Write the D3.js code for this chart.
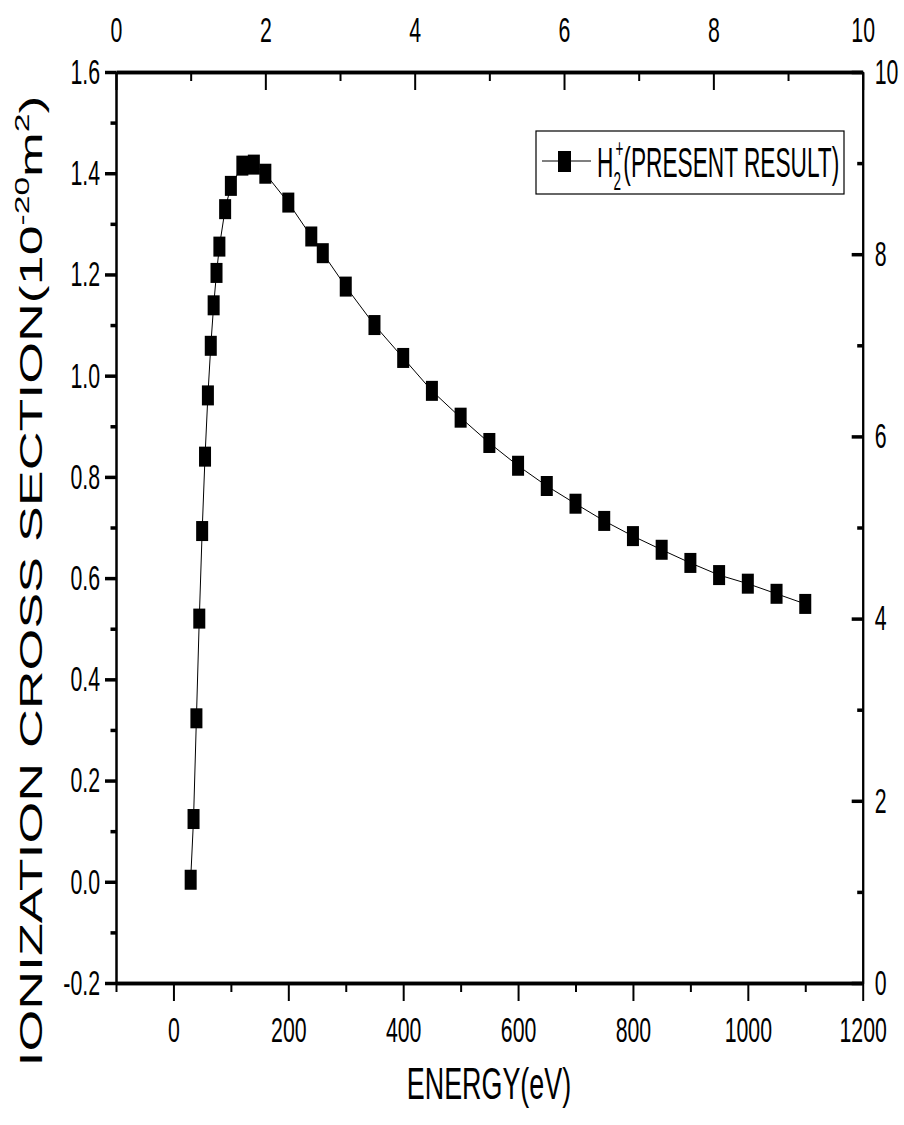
<!DOCTYPE html>
<html>
<head>
<meta charset="utf-8">
<script src="https://cdn.jsdelivr.net/npm/d3@7"></script>
<style>
  body { margin: 0; background: #fff; }
  svg { display: block; font-family: "Liberation Sans", Arial, sans-serif; }
</style>
</head>
<body>
<script>
// data
var energy = [30, 35, 40, 45, 50, 55, 60, 65, 70, 75, 80, 90, 100, 120, 140, 160, 200, 240, 260, 300,
              350, 400, 450, 500, 550, 600, 650, 700, 750, 800, 850, 900, 950, 1000, 1050, 1100];
var sigma = [0.004, 0.124, 0.323, 0.52, 0.693, 0.84, 0.961, 1.059, 1.139, 1.203, 1.255, 1.329, 1.375, 1.415, 1.417, 1.399, 1.342, 1.275, 1.242, 1.176,
             1.100, 1.035, 0.97, 0.917, 0.867, 0.822, 0.782, 0.747, 0.713, 0.683, 0.656, 0.63, 0.606, 0.589, 0.569, 0.549];
var bottomTicks = [0, 200, 400, 600, 800, 1000, 1200];
var bottomMinor = [-100, 100, 300, 500, 700, 900, 1100];
var leftTicks = [-0.2, 0, 0.2, 0.4, 0.6, 0.8, 1.0, 1.2, 1.4, 1.6];
var leftMinor = [-0.1, 0.1, 0.3, 0.5, 0.7, 0.9, 1.1, 1.3, 1.5];
var auxTicks = [0, 2, 4, 6, 8, 10];
var auxMinor = [1, 3, 5, 7, 9];
var legendLabel = "(PRESENT RESULT)";

(function(){

var width = 904, height = 1125;
var pLeft = 116, pRight = 862.7, pTop = 72, pBottom = 983;
var sq = 0.6; // text looks squeezed horizontally
var tickFont = 35.5;

var svg = d3.select("body").append("svg")
    .attr("width", width)
    .attr("height", height);

var x = d3.scaleLinear().domain([-100, 1200]).range([pLeft, pRight]);
var y = d3.scaleLinear().domain([-0.2, 1.6]).range([pBottom, pTop]);
var xTop = d3.scaleLinear().domain([0, 10]).range([pLeft, pRight]);
var yRight = d3.scaleLinear().domain([0, 10]).range([pBottom, pTop]);

//plain hyphen instead of the unicode minus
var fmt1 = function(d){ return d3.format(".1f")(d).replace("\u2212", "-"); };

//squeeze tick labels without moving them
function squeeze(texts, k){
  texts.each(function(){
    var t = d3.select(this);
    var tx = +t.attr("x") || 0;
    t.attr("x", tx / k).attr("transform", "scale(" + k + ",1)");
  });
}

function styleAxis(g, domainW, tickW){
  g.select(".domain").attr("stroke-width", domainW).attr("stroke", "#000");
  g.selectAll(".tick line").attr("stroke-width", tickW).attr("stroke", "#000");
  g.selectAll("text").attr("font-size", tickFont).attr("fill", "#000");
}

// minor ticks first
svg.append("g").attr("transform", "translate(0," + pBottom + ")")
  .call(d3.axisBottom(x).tickValues(bottomMinor).tickFormat("").tickSizeInner(9).tickSizeOuter(0))
  .call(function(g){ styleAxis(g, 3.5, 2); });
svg.append("g").attr("transform", "translate(" + pLeft + ",0)")
  .call(d3.axisLeft(y).tickValues(leftMinor).tickFormat("").tickSizeInner(5.5).tickSizeOuter(0))
  .call(function(g){ styleAxis(g, 2, 3.5); });
svg.append("g").attr("transform", "translate(0," + pTop + ")")
  .call(d3.axisTop(xTop).tickValues(auxMinor).tickFormat("").tickSizeInner(-9).tickSizeOuter(0))
  .call(function(g){ styleAxis(g, 3.5, 2); });
svg.append("g").attr("transform", "translate(" + pRight + ",0)")
  .call(d3.axisRight(yRight).tickValues(auxMinor).tickFormat("").tickSizeInner(-5.5).tickSizeOuter(0))
  .call(function(g){ styleAxis(g, 2, 3.5); });

// major ticks + labels
var gx = svg.append("g").attr("transform", "translate(0," + pBottom + ")")
  .call(d3.axisBottom(x).tickValues(bottomTicks).tickFormat(d3.format("d")).tickSizeInner(18).tickSizeOuter(0).tickPadding(16));
styleAxis(gx, 3.5, 2);
squeeze(gx.selectAll("text"), sq);

var gy = svg.append("g").attr("transform", "translate(" + pLeft + ",0)")
  .call(d3.axisLeft(y).tickValues(leftTicks).tickFormat(fmt1).tickSizeInner(11).tickSizeOuter(0).tickPadding(5));
styleAxis(gy, 2, 3.5);
squeeze(gy.selectAll("text"), sq);

var gt = svg.append("g").attr("transform", "translate(0," + pTop + ")")
  .call(d3.axisTop(xTop).tickValues(auxTicks).tickFormat(d3.format("d")).tickSizeInner(-18).tickSizeOuter(0).tickPadding(30));
styleAxis(gt, 3.5, 2);
squeeze(gt.selectAll("text"), sq);

var gr = svg.append("g").attr("transform", "translate(" + pRight + ",0)")
  .call(d3.axisRight(yRight).tickValues(auxTicks).tickFormat(d3.format("d")).tickSizeInner(-11).tickSizeOuter(0).tickPadding(12));
styleAxis(gr, 2, 3.5);
squeeze(gr.selectAll("text"), sq);

// data line + markers
var pts = energy.map(function(e, i){ return [e, sigma[i]]; });
var line = d3.line().x(function(d){ return x(d[0]); }).y(function(d){ return y(d[1]); });

svg.append("path")
  .datum(pts)
  .attr("d", line)
  .attr("fill", "none")
  .attr("stroke", "#000")
  .attr("stroke-width", 1);

svg.selectAll(".pt")
  .data(pts)
  .enter()
  .append("rect")
  .attr("class", "pt")
  .attr("x", function(d){ return x(d[0]) - 6; })
  .attr("y", function(d){ return y(d[1]) - 10; })
  .attr("width", 12)
  .attr("height", 20)
  .attr("fill", "#000");

// legend
var leg = svg.append("g");
leg.append("rect")
  .attr("x", 536).attr("y", 131).attr("width", 308).attr("height", 63)
  .attr("fill", "#fff").attr("stroke", "#000").attr("stroke-width", 1.2);
leg.append("line")
  .attr("x1", 542).attr("x2", 591).attr("y1", 161).attr("y2", 161)
  .attr("stroke", "#000").attr("stroke-width", 1.2);
leg.append("rect")
  .attr("x", 558).attr("y", 151).attr("width", 13).attr("height", 21)
  .attr("fill", "#000");

var legText = leg.append("g")
  .attr("transform", "translate(597,177) scale(0.54,1)")
  .append("text")
  .attr("font-size", 42)
  .attr("fill", "#000");
legText.append("tspan").text("H");
legText.append("tspan").attr("font-size", 25).attr("dy", 13).text("2");
legText.append("tspan").attr("font-size", 25).attr("dx", -10).attr("dy", -33).text("+");
legText.append("tspan").attr("dy", 20).text(legendLabel);

// axis titles
svg.append("g")
  .attr("transform", "translate(489,1099) scale(" + sq + ",1)")
  .append("text")
  .attr("text-anchor", "middle")
  .attr("font-size", 44.8)
  .attr("fill", "#000")
  .text("ENERGY(eV)");

var yt = svg.append("text")
  .attr("transform", "translate(42,581) rotate(-90) scale(1.68,1)")
  .attr("text-anchor", "middle")
  .attr("font-size", 32)
  .attr("fill", "#000");
yt.append("tspan").text("IONIZATION CROSS SECTION(10");
yt.append("tspan").attr("font-size", 20).attr("dy", -13).text("-20");
yt.append("tspan").attr("dy", 13).text("m");
yt.append("tspan").attr("font-size", 20).attr("dy", -13).text("2");
yt.append("tspan").attr("dy", 13).text(")");

})();
</script>
</body>
</html>
